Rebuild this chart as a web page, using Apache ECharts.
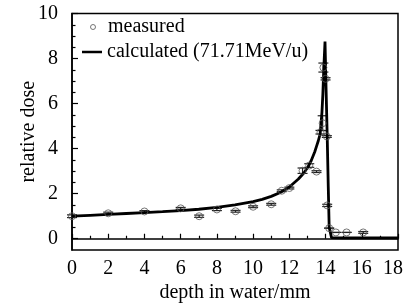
<!DOCTYPE html>
<html>
<head>
<meta charset="utf-8">
<script src="https://cdn.jsdelivr.net/npm/echarts@6/dist/echarts.min.js"></script>
<style>html,body{margin:0;padding:0;background:#fff}#c{width:404px;height:305px}</style>
</head>
<body>
<div id="c"></div>
<script>
// measured depth (mm), relative dose, error
var measDepth = [0, 2, 4, 6, 7.02, 8, 9.03, 10, 11, 11.58, 12, 12.73, 13.1, 13.5, 13.72, 13.84, 13.88, 14.0, 14.07, 14.09, 14.2, 14.57, 15.16, 16.08];
var measDose  = [1.0, 1.13, 1.21, 1.35, 1.0, 1.3, 1.22, 1.42, 1.53, 2.13, 2.25, 3.02, 3.25, 2.98, 4.73, 5.13, 7.6, 7.1, 4.54, 1.48, 0.47, 0.28, 0.28, 0.28];
var measErr   = [0.06, 0.05, 0.04, 0.04, 0.05, 0.05, 0.04, 0.04, 0.04, 0.04, 0.04, 0.12, 0.08, 0.04, 0.08, 0.33, 0.2, 0.05, 0.04, 0.05, 0, 0, 0, 0.04];
// calculated curve
var calcDepth = [0, 1, 2, 3, 4, 5, 6, 7, 8, 9, 10, 10.5, 11, 11.5, 12, 12.5, 12.8, 13, 13.2, 13.4, 13.5, 13.6, 13.7, 13.8, 13.85, 13.9, 13.97, 14.03, 14.09, 14.15, 14.2, 14.33, 15, 16, 17, 18];
var calcDose  = [1.0, 1.04, 1.08, 1.12, 1.16, 1.2, 1.25, 1.31, 1.39, 1.5, 1.65, 1.75, 1.88, 2.05, 2.3, 2.65, 2.92, 3.15, 3.45, 3.85, 4.1, 4.35, 4.65, 5.6, 6.4, 7.5, 8.75, 6.6, 4.6, 2.3, 0.5, 0.05, 0.04, 0.04, 0.04, 0.04];
var yMajorTicks = [0, 2, 4, 6, 8, 10];
var yMinorTicks = [0.5, 1, 1.5, 2.5, 3, 3.5, 4.5, 5, 5.5, 6.5, 7, 7.5, 8.5, 9, 9.5];
var seriesNames = ['measured', 'calculated (71.71MeV/u)'];

var FONT = '"Liberation Serif", "Times New Roman", serif';
var FS = 20;
var chart = echarts.init(document.getElementById('c'), null, {renderer: 'canvas'});

var measData = measDepth.map(function (d, i) { return [d, measDose[i]]; });
var errData = measDepth.map(function (d, i) { return [d, measDose[i] - measErr[i], measDose[i] + measErr[i]]; });
var calcData = calcDepth.map(function (d, i) { return [d, calcDose[i]]; });

chart.setOption({
  animation: false,
  backgroundColor: '#fff',
  grid: {left: 72, right: 6, top: 13.5, bottom: 55, show: true, borderColor: '#000', borderWidth: 1.5,
         outerBoundsMode: 'none', containLabel: false},
  legend: [{
    orient: 'vertical', left: 85, top: 12,
    itemWidth: 20, itemHeight: 5,
    textStyle: {fontFamily: FONT, fontSize: FS, color: '#000'},
    data: [{name: seriesNames[0], icon: 'circle', itemStyle: {color: '#fff', borderColor: '#555', borderWidth: 1}}]
  }, {
    orient: 'vertical', left: 77, top: 37,
    itemWidth: 20, itemHeight: 2.5,
    textStyle: {fontFamily: FONT, fontSize: FS, color: '#000'},
    data: [{name: seriesNames[1], icon: 'rect', itemStyle: {color: '#000'}}]
  }],
  xAxis: {
    type: 'value', min: 0, max: 18, interval: 2,
    name: 'depth in water/mm', nameLocation: 'middle', nameGap: 33, nameMoveOverlap: false,
    nameTextStyle: {fontFamily: FONT, fontSize: FS, color: '#000'},
    axisLine: {lineStyle: {color: '#000', width: 1.5}},
    axisTick: {inside: true, length: 5, lineStyle: {color: '#000', width: 1.2}},
    minorTick: {show: true, splitNumber: 2, length: 3, lineStyle: {color: '#000', width: 1.2}},
    axisLabel: {
      fontFamily: FONT, fontSize: FS, color: '#000', margin: 9,
      formatter: function (v) { return v === 18 ? '{last|' + v + '}' : String(v); },
      rich: {last: {fontFamily: FONT, fontSize: FS, color: '#000', padding: [0, 10, 0, 0]}}
    },
    splitLine: {show: false}
  },
  yAxis: [{
    type: 'value', min: -0.5, max: 10,
    name: 'relative dose', nameLocation: 'middle', nameGap: 33, nameMoveOverlap: false,
    nameTextStyle: {fontFamily: FONT, fontSize: FS, color: '#000'},
    axisLine: {show: true, lineStyle: {color: '#000', width: 1.5}},
    axisTick: {show: true, inside: true, length: 6, customValues: yMajorTicks, lineStyle: {color: '#000', width: 1.2}},
    axisLabel: {fontFamily: FONT, fontSize: FS, color: '#000', margin: 14, customValues: yMajorTicks},
    splitLine: {show: false}
  }, {
    type: 'value', min: -0.5, max: 10, position: 'left',
    axisLine: {show: false},
    axisTick: {show: true, inside: true, length: 3.5, customValues: yMinorTicks, lineStyle: {color: '#000', width: 1.2}},
    axisLabel: {show: false},
    splitLine: {show: false}
  }],
  series: [{
    name: seriesNames[1], type: 'line', data: calcData, symbol: 'none', smooth: false,
    lineStyle: {color: '#000', width: 2.8}, itemStyle: {color: '#000'}, z: 3
  }, {
    name: 'err', type: 'custom', data: errData, z: 2,
    renderItem: function (params, api) {
      var x = api.value(0);
      var lo = api.coord([x, api.value(1)]);
      var hi = api.coord([x, api.value(2)]);
      var hw = 5;
      var st = {stroke: '#222', lineWidth: 1.2};
      return {type: 'group', children: [
        {type: 'line', shape: {x1: lo[0], y1: lo[1], x2: hi[0], y2: hi[1]}, style: st},
        {type: 'line', shape: {x1: lo[0] - hw, y1: lo[1], x2: lo[0] + hw, y2: lo[1]}, style: st},
        {type: 'line', shape: {x1: hi[0] - hw, y1: hi[1], x2: hi[0] + hw, y2: hi[1]}, style: st}
      ]};
    }
  }, {
    name: seriesNames[0], type: 'scatter', data: measData, symbol: 'circle', symbolSize: 7, z: 4,
    itemStyle: {color: 'rgba(255,255,255,0)', borderColor: '#555', borderWidth: 1}
  }]
});
</script>
</body>
</html>
